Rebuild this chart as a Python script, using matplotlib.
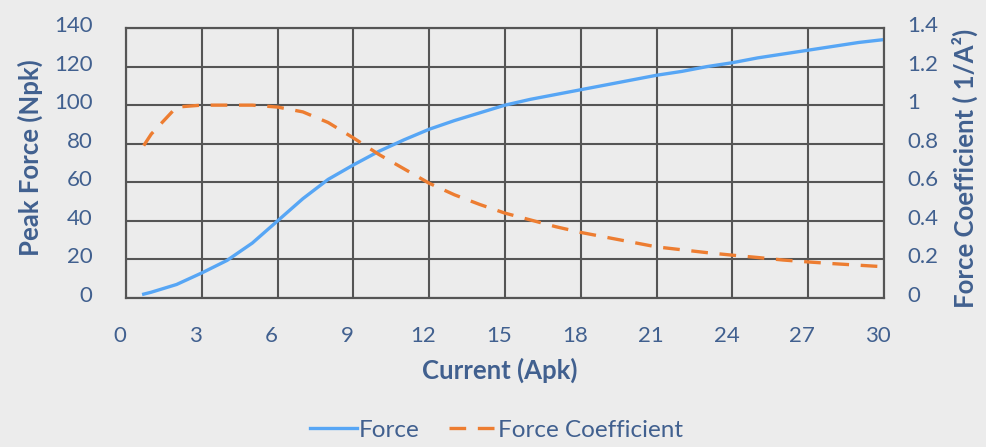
import numpy as np
import matplotlib
matplotlib.use('Agg')
import matplotlib.pyplot as plt
import matplotlib.ticker as ticker
from matplotlib.transforms import ScaledTranslation

# values
current = [0.7, 1, 2, 3, 4, 5, 6, 7, 8, 9, 10, 11, 12, 13, 14, 15, 16, 17, 18, 19,
           20, 21, 22, 23, 24, 25, 26, 27, 28, 29, 30]
force = [2, 3, 7, 13, 19.5, 28.5, 40, 51.5, 61.5, 69, 76, 82, 87.5, 92, 96, 100, 103, 105.5,
         108, 110.5, 113, 115.5, 117.5, 120, 122, 124.5, 126.5, 128.5, 130.5, 132.5, 134]
force_coef = [0.79, 0.85, 0.99, 1.0, 1.0, 1.0, 0.99, 0.965, 0.91, 0.83, 0.745, 0.67,
              0.595, 0.535, 0.485, 0.44, 0.405, 0.37, 0.34, 0.315, 0.29, 0.265, 0.25,
              0.235, 0.222, 0.21, 0.197, 0.187, 0.178, 0.17, 0.162]

x_ticks = list(range(0, 31, 3))
left_ticks = list(range(0, 141, 20))
right_ticks = [0, 0.2, 0.4, 0.6, 0.8, 1.0, 1.2, 1.4]

bg = '#ececec'
txt = '#41608f'
grid_c = '#555555'
blue = '#57a6f5'
orange = '#ed7d31'

plt.rcParams['font.family'] = ['Lato', 'DejaVu Sans']

fig = plt.figure(figsize=(9.87, 4.47), dpi=100, facecolor=bg)
ax = fig.add_axes([126 / 987, 1 - 298 / 447, 758 / 987, 270 / 447])
ax.set_facecolor(bg)
ax2 = ax.twinx()

l1, = ax.plot(current, force, color=blue, lw=2.4, label='Force', zorder=3,
              solid_joinstyle='round')
l2, = ax2.plot(current, force_coef, color=orange, lw=2.4, dashes=(5, 3.5),
               label='Force Coefficient', zorder=3)

ax.set_xlim(0, 30)
ax.set_ylim(0, 140)
ax2.set_ylim(0, 1.4)
ax.set_xticks(x_ticks)
ax.set_yticks(left_ticks)
ax2.set_yticks(right_ticks)
ax2.yaxis.set_major_formatter(ticker.FuncFormatter(lambda v, p: f'{v:g}'))

ax.set_axisbelow(True)
ax.grid(True, color=grid_c, lw=1.5)
for a in (ax, ax2):
    for s in a.spines.values():
        s.set_color(grid_c)
        s.set_linewidth(1.5)
    a.tick_params(length=0, labelsize=16, labelcolor=txt)

ax.tick_params(axis='x', pad=20)
ax.tick_params(axis='y', pad=24)
ax2.tick_params(axis='y', pad=17)

# excel places its labels a few pixels off the grid lines
for lab in ax.get_xticklabels():
    lab.set_transform(lab.get_transform() + ScaledTranslation(-6 / 100, 0, fig.dpi_scale_trans))
for lab in ax.get_yticklabels() + ax2.get_yticklabels():
    lab.set_transform(lab.get_transform() + ScaledTranslation(0, 4 / 100, fig.dpi_scale_trans))

ax.set_xlabel('Current (Apk)', fontsize=18.5, fontweight='bold', color=txt)
ax.xaxis.set_label_coords(0.493, -0.22)
ax.set_ylabel('Peak Force (Npk)', fontsize=18.5, fontweight='bold', color=txt)
ax.yaxis.set_label_coords(-0.11, 0.52)
ax2.set_ylabel('Force Coefficient ( 1/A²)', fontsize=18.5, fontweight='bold', color=txt)
ax2.yaxis.set_label_coords(1.09, 0.48)

leg = fig.legend(handles=[l1, l2], loc='center', bbox_to_anchor=(0.503, 0.038),
                 ncol=2, frameon=False, fontsize=17.5, handlelength=1.9,
                 handletextpad=0.1, columnspacing=1.2, labelcolor=txt)

fig.savefig('out.png', dpi=100, facecolor=bg)
